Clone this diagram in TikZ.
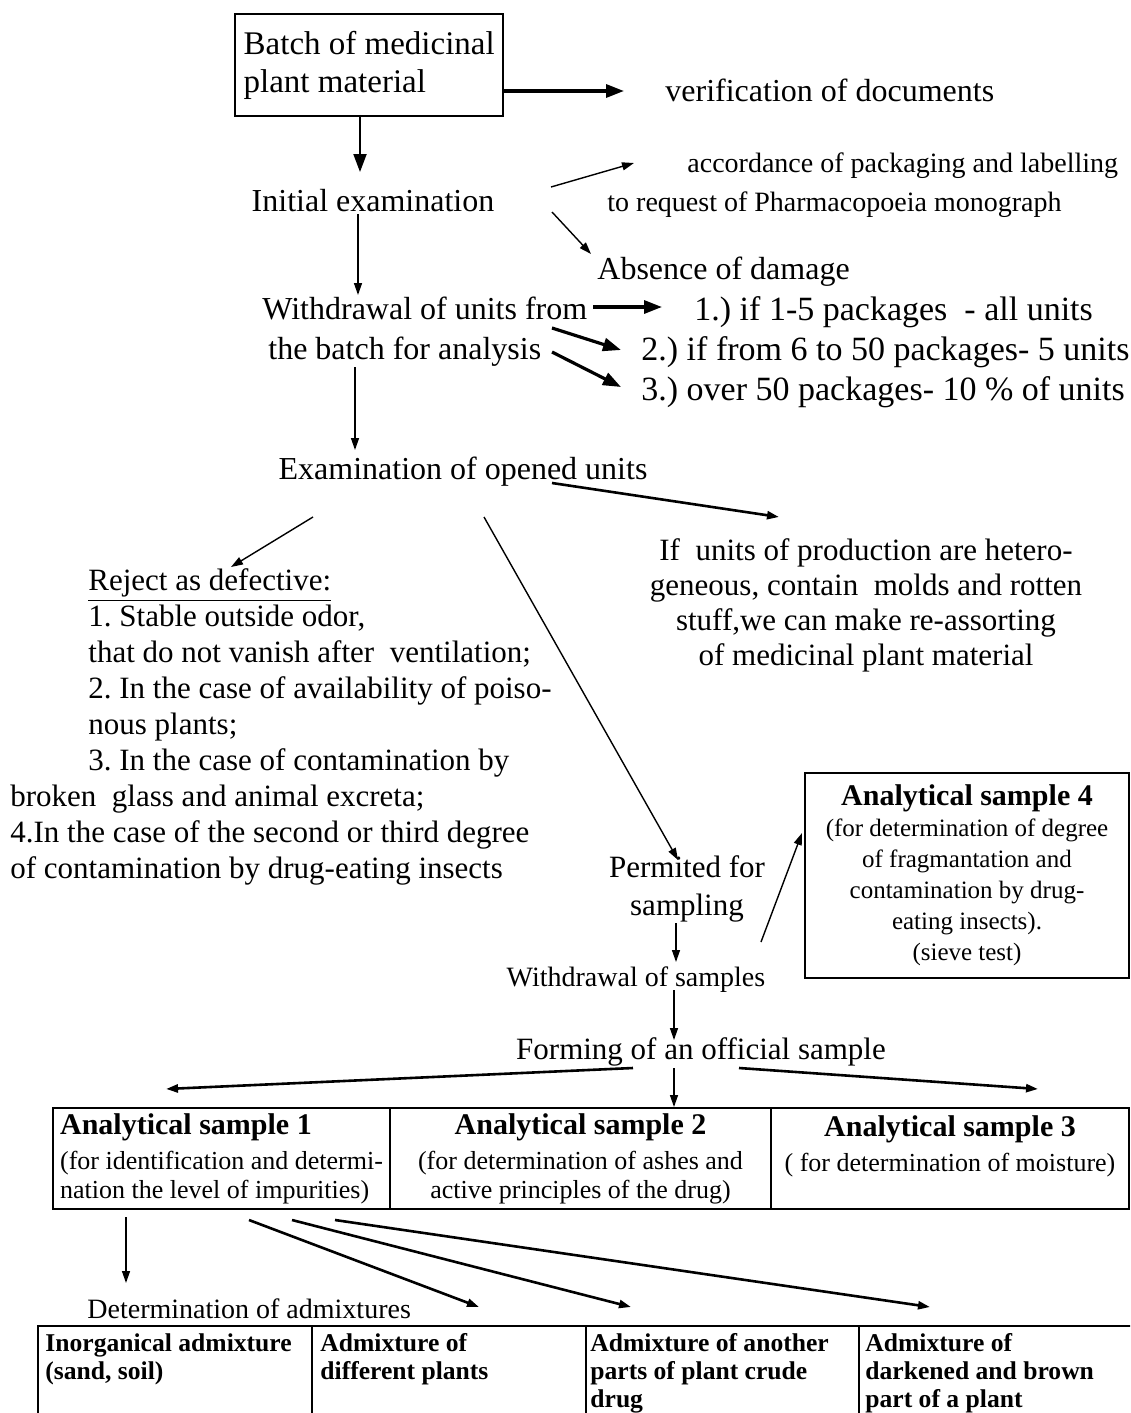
\documentclass[tikz,border=0pt]{standalone}
\usepackage{fontspec}
\setmainfont{Liberation Serif}
\usetikzlibrary{arrows.meta,calc}
\frenchspacing

\begin{document}
\begin{tikzpicture}[x=0.5pt,y=-0.5pt,>={Triangle[length=6pt,width=4pt]},
    txt/.style={inner sep=0pt,font=\fontsize{16}{19}\selectfont},
    opt/.style={inner sep=0pt,anchor=west,font=\fontsize{17}{20}\selectfont},
    cellbox/.style={draw,line width=1pt,inner sep=2pt,anchor=north west},
    adtxt/.style={inner sep=0pt,anchor=north west,align=left,font=\fontsize{12.8}{14}\selectfont\bfseries}]
  \tikzset{arr/.style={->,line width=0.7pt},
    heavy/.style={-{Triangle[length=9pt,width=6.5pt]},line width=1.6pt},
    mid/.style={-{Triangle[length=9pt,width=6.5pt]},line width=1pt},
    gr/.style={->,line width=1.3pt}}
  \useasboundingbox (0,0) rectangle (1130,1413);
  \clip (0,0) rectangle (1130,1413);
  \node[cellbox,line width=1.2pt,minimum width=134pt,minimum height=51pt,align=left,font=\fontsize{16.5}{19}\selectfont] (batch) at (234,13) {Batch of medicinal\\plant material};
  \node[txt,anchor=west] (verif) at (665,90) {verification of documents};
  \node[txt] (init) at (373,201) {Initial examination};
  \node[txt,anchor=west,align=left,font=\fontsize{14}{19.5}\selectfont] (acc) at (607,185) {\hspace*{40pt}accordance of packaging and labelling\\to request of Pharmacopoeia monograph};
  \node[txt,anchor=west] (absence) at (597,272) {Absence of damage};
  \node[txt,anchor=west,align=left,font=\fontsize{16}{20}\selectfont] (wd) at (262,332) {Withdrawal of units from\\\hspace*{3pt}the batch for analysis};
  \node[opt] (opt1) at (694,312) {1.) if 1-5 packages~~- all units};
  \node[opt] (opt2) at (641,352) {2.) if from 6 to 50 packages- 5 units};
  \node[opt] (opt3) at (641,392) {3.) over 50 packages- 10 \% of units};
  \node[txt] (exam) at (463,472) {Examination of opened units};
  \node[txt,align=center,font=\fontsize{15.5}{17.5}\selectfont] (ifu) at (866,605) {If~~units of production are hetero-\\geneous, contain~~molds and rotten\\stuff,we can make re-assorting\\of medicinal plant material};
  \node[txt,anchor=west,align=left,font=\fontsize{15.5}{18}\selectfont] (reject) at (10,727) {\hspace*{39pt}\underline{Reject as defective:}\\
    \hspace*{39pt}1. Stable outside odor,\\
    \hspace*{39pt}that do not vanish after~~ventilation;\\
    \hspace*{39pt}2. In the case of availability of poiso-\\
    \hspace*{39pt}nous plants;\\
    \hspace*{39pt}3. In the case of contamination by\\
    broken~~glass and animal excreta;\\
    4.In the case of the second or third degree\\
    of contamination by drug-eating insects};
  \node[txt,align=center,font=\fontsize{15.5}{19}\selectfont] (perm) at (687,889) {Permited for\\sampling};
  \node[cellbox,minimum width=162pt,minimum height=102.5pt,align=center,font=\fontsize{12.5}{15.5}\selectfont] (as4) at (804,772) {{\fontsize{15}{15.5}\selectfont\bfseries Analytical sample 4}\\(for determination of degree\\of fragmantation and\\contamination by drug-\\eating insects).\\(sieve test)};
  \node[txt,font=\fontsize{14}{16}\selectfont] (samp) at (636,980) {Withdrawal of samples};
  \node[txt,font=\fontsize{15.5}{18}\selectfont] (form) at (701,1052) {Forming of an official sample};
  % analytical samples
  \node[cellbox,minimum width=168.5pt,minimum height=50.5pt,align=left,font=\fontsize{13}{14.5}\selectfont] (as1) at (52,1107) {{\fontsize{15}{16}\selectfont\bfseries Analytical sample 1}\\[3pt](for~identification~and~determi-\\nation the level of impurities)};
  \node[cellbox,minimum width=190.5pt,minimum height=50.5pt,align=center,font=\fontsize{13}{14.5}\selectfont] (as2) at (389,1107) {{\fontsize{15}{16}\selectfont\bfseries Analytical sample 2}\\[3pt](for determination of ashes and\\active principles of the drug)};
  \node[cellbox,minimum width=179pt,minimum height=50.5pt,align=center,font=\fontsize{13}{14.5}\selectfont] (as3) at (770,1107) {{\fontsize{15}{16}\selectfont\bfseries Analytical sample 3}\\[3pt]( for determination of moisture)\\\mbox{}};
  \node[txt,anchor=west,font=\fontsize{14}{16}\selectfont] (det) at (87,1309) {Determination of admixtures};
  % admixtures
  \node[cellbox,minimum width=137pt,minimum height=65pt] (ad1) at (37,1325) {};
  \node[cellbox,minimum width=137pt,minimum height=65pt] (ad2) at (311,1325) {};
  \node[cellbox,minimum width=136.5pt,minimum height=65pt] (ad3) at (585,1325) {};
  \node[cellbox,minimum width=140pt,minimum height=65pt] (ad4) at (858,1325) {};
  \node[adtxt] (ad1t) at ($(ad1.north west)+(8,8)$) {Inorganical admixture\\(sand, soil)};
  \node[adtxt] (ad2t) at ($(ad2.north west)+(9,8)$) {Admixture of\\different plants};
  \node[adtxt] (ad3t) at ($(ad3.north west)+(5,8)$) {Admixture of another\\parts of plant crude\\drug};
  \node[adtxt] (ad4t) at ($(ad4.north west)+(7,8)$) {Admixture of\\darkened and brown\\part of a plant};
  % connectors
  \path[heavy] ($(batch.north west)+(268,78)$) edge ($(verif.west)+(-41,1)$);
  \path[mid] ($(batch.north west)+(126,102)$) edge ($(init)+(-13,-29)$);
  \path[arr] ($(init)+(178,-14)$) edge ($(acc.west)+(27,-22)$);
  \path[arr] ($(init)+(179,11)$) edge ($(absence.west)+(-6,-18)$);
  \path[arr] ($(init)+(-15,13)$) edge ($(wd.west)+(96,-37)$);
  \path[heavy] ($(wd.west)+(331,-25)$) edge ($(opt1.west)+(-32,-5)$);
  \path[heavy] ($(wd.west)+(290,-4)$) edge ($(opt2.west)+(-20,-2)$);
  \path[heavy] ($(wd.west)+(290,20)$) edge ($(opt3.west)+(-20,-5)$);
  \path[arr] ($(wd.west)+(93,35)$) edge ($(exam)+(-108,-22)$);
  \path[gr] ($(exam)+(89,11)$) edge ($(ifu)+(-87,-88)$);
  \path[arr] ($(exam)+(-150,45)$) edge ($(reject.west)+(221,-160)$);
  \path[arr] ($(exam)+(21,45)$) edge ($(perm)+(-9,-29)$);
  \path[arr] ($(perm)+(-11,34)$) edge ($(samp)+(40,-18)$);
  \path[arr] ($(perm)+(74,53)$) edge ($(as4.north west)+(-2,61)$);
  \path[arr] ($(samp)+(38,10)$) edge ($(form)+(-27,-12)$);
  \path[gr] ($(form)+(-68,16)$) edge ($(as1.north west)+(114,-18)$);
  \path[arr] ($(form)+(-27,16)$) edge ($(as2.north west)+(285,0)$);
  \path[gr] ($(form)+(38,16)$) edge ($(as3.north west)+(268,-18)$);
  \path[arr] ($(as1.north west)+(74,110)$) edge ($(det.west)+(39,-26)$);
  \path[gr] ($(as1.north west)+(197,113)$) edge ($(ad2.north west)+(168,-18)$);
  \path[gr] ($(as1.north west)+(240,113)$) edge ($(ad3.north west)+(46,-18)$);
  \path[gr] ($(as1.north west)+(283,113)$) edge ($(ad4.north west)+(72,-18)$);
\end{tikzpicture}
\end{document}
